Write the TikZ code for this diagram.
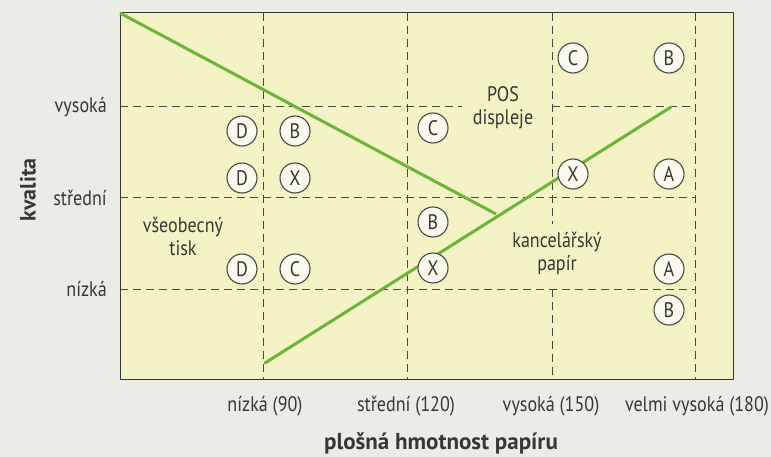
\documentclass[tikz,border=0pt]{standalone}
\usepackage{fontspec}
\setmainfont[FakeStretch=0.86]{PT Sans}
\newfontfamily\headfont{PT Sans}
\definecolor{paper}{RGB}{236,236,231}
\definecolor{field}{RGB}{244,243,198}
\definecolor{ink}{RGB}{55,55,52}
\definecolor{rule}{RGB}{72,72,68}
\definecolor{trend}{RGB}{108,180,58}
\definecolor{badge}{RGB}{250,250,238}
\tikzset{
  label text/.style={text=ink, inner sep=0pt, font=\fontsize{21}{23}\selectfont},
  axis title/.style={text=ink, inner sep=0pt, font=\headfont\bfseries\fontsize{23}{26}\selectfont},
  grade/.style={circle, draw=rule, fill=badge, line width=1.1pt, minimum size=30pt,
    inner sep=0pt, text=ink, font=\fontsize{21}{21}\selectfont},
  guide/.style={draw=rule, line width=1pt, dash pattern=on 8pt off 5pt},
  trendline/.style={draw=trend, line width=3pt},
}
\begin{document}
\begin{tikzpicture}[x=1pt,y=-1pt]
% page and plotting field
\fill[paper] (0,0) rectangle (771,457);
\useasboundingbox (0,0) rectangle (771,457);
\fill[field] (120,13) rectangle (733,379);

% quality levels (horizontal guides)
\draw[guide] (120,107) -- (462,107);
\draw[guide] (552,107) -- (695,107);
\draw[guide] (120,198) -- (695,198);
\draw[guide] (120,289) -- (695,289);
% grammage levels (vertical guides)
\draw[guide] (263,13) -- (263,379);
\draw[guide] (407,13) -- (407,379);
\draw[guide] (552,13) -- (552,224);
\draw[guide] (552,289) -- (552,379);
\draw[guide] (695,13) -- (695,379);

\draw[ink, line width=1pt] (120,13) rectangle (733,379);

% trend lines
\coordinate (t1a) at (120,13);
\coordinate (t1b) at (496,214);
\coordinate (t2a) at (265,363);
\coordinate (t2b) at (671,107);
\draw[trendline] (t1a) -- (t1b);
\draw[trendline, line cap=round] (t2a) -- (t2b);

% paper grades
\node[grade] (d1) at (242,131) {D};
\node[grade] (b1) at (295,131) {B};
\node[grade] (d2) at (242,178) {D};
\node[grade] (x1) at (295,178) {X};
\node[grade] (d3) at (242,269) {D};
\node[grade] (c1) at (295,269) {C};
\node[grade] (c2) at (433,128) {C};
\node[grade] (b2) at (433,222) {B};
\node[grade] (x2) at (433,268) {X};
\node[grade] (c3) at (573,58) {C};
\node[grade] (b3) at (669,58) {B};
\node[grade] (x3) at (573,174) {X};
\node[grade] (a1) at (669,174) {A};
\node[grade] (a2) at (669,269) {A};
\node[grade] (b4) at (669,310) {B};

% region names
\node[label text, align=center] (gen) at (183,236) {všeobecný\\tisk};
\node[label text, align=center] (pos) at (503,108) {POS\\displeje};
\node[label text, align=center] (off) at (557,253) {kancelářský\\papír};

% axis levels
\node[label text, anchor=east] (yh) at (107,107) {vysoká};
\node[label text, anchor=east] (ym) at (107,198) {střední};
\node[label text, anchor=east] (yl) at (107,289) {nízká};
\node[label text] (xl) at (265,406) {nízká (90)};
\node[label text] (xm) at (406,406) {střední (120)};
\node[label text] (xh) at (551,406) {vysoká (150)};
\node[label text] (xv) at (697,406) {velmi vysoká (180)};

% axis titles
\node[axis title, font=\headfont\bfseries\fontsize{22}{26}\selectfont, rotate=90] (ytitle) at (28,190) {kvalita};
\node[axis title] (xtitle) at (441,443) {plošná hmotnost papíru};
\end{tikzpicture}
\end{document}
